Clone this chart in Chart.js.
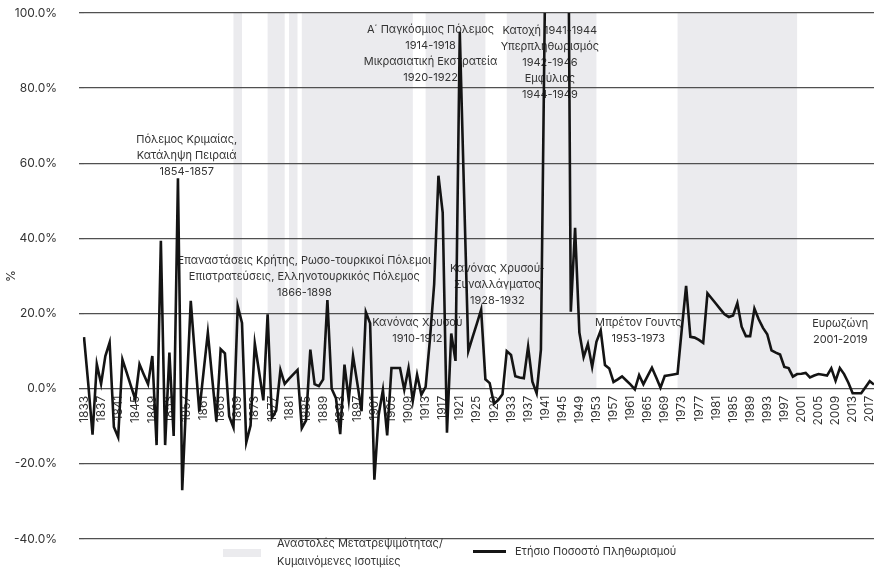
<!DOCTYPE html>
<html lang="el">
<head>
<meta charset="utf-8">
<title>Ετήσιο Ποσοστό Πληθωρισμού</title>
<script src="https://cdn.jsdelivr.net/npm/chart.js@4.4.1/dist/chart.umd.min.js"></script>
<style>
  html, body { margin: 0; padding: 0; background: #fff; }
</style>
</head>
<body>
<canvas id="lineChart" width="874" height="573"></canvas>
<script>
// categories: one per year
var primerAnno = 1833;
var ultimoAnno = 2018;
var annos = [];
for (var a = primerAnno; a <= ultimoAnno; a++) { annos.push(String(a)); }

// annual inflation, % (values above 100 run off the top of the chart)
var inflacion = [
  13.7, 1.3, -12.2, 6.5, 1.3, 8.7, 12.3, -10.2, -12.9, 7.8,      // 1833-1842
  4.3, 0.7, -2.8, 6.5, 3.8, 1.2, 8.7, -15, 39.4, -15,            // 1843-1852
  9.6, -12.6, 56, -27, -1.5, 23.4, 8.5, -6.1, 4.5, 14.9,         // 1853-1862
  3, -8.7, 10.5, 9.4, -7.3, -10.3, 22, 17.5, -14.3, -9.8,        // 1863-1872
  12, 4.5, -3.1, 19.8, -7.8, -5.8, 5, 1.3, 2.6, 3.8,             // 1873-1882
  5, -10.5, -8.4, 10.4, 1.2, 0.7, 2.5, 23.6, 0, -2.5,            // 1883-1892
  -12.1, 6.4, -3, 8.7, 1.5, -6, 20.4, 17.4, -24.2, -7,           // 1893-1902
  -0.3, -12.4, 5.5, 5.5, 5.5, -0.3, 5.5, -3.2, 3.7, -1.6,        // 1903-1912
  0.5, 13, 27.8, 56.7, 46.9, -11.7, 14.7, 7.4, 95, 52,           // 1913-1922
  10, 13.7, 17.3, 21, 2.5, 1.5, -4, -3, -1.5, 10,                // 1923-1932
  9, 3.3, 3, 2.8, 11.2, 1.9, -1.2, 10.4, 110, 1000,              // 1933-1942
  2000, 10000, 1000, 200, 20.5, 42.8, 15, 8.4, 11.9, 5.8,        // 1943-1952
  12.5, 15.5, 6.3, 5.4, 1.8, 2.5, 3.3, 2.2, 1.1, -0.2,           // 1953-1962
  3.6, 1.2, 3.4, 5.6, 3, 0.3, 3.4, 3.6, 3.8, 4,                  // 1963-1972
  16, 27.4, 13.8, 13.6, 13, 12.2, 25.4, 24, 22.6, 21.2,          // 1973-1982
  19.8, 19.1, 19.5, 22.8, 16.5, 14, 14, 21.3, 18.5, 16.2,        // 1983-1992
  14.5, 10.2, 9.6, 9.1, 5.8, 5.5, 3.2, 3.9, 4, 4.2,              // 1993-2002
  3, 3.5, 3.9, 3.7, 3.5, 5.4, 2.1, 5.5, 3.9, 1.6,                // 2003-2012
  -1.2, -1.2, -1.2, 0.4, 2, 1.1                                  // 2013-2018
];

// suspensions of convertibility / floating rates: [start, end)
var anastolesApo = [1868, 1876, 1881, 1884, 1913, 1932, 1972];
var anastolesEos = [1870, 1880, 1883, 1910, 1927, 1953, 2000];

// y ticks
var yMin = -40;
var yMax = 100;
var yPaso = 20;

// notes: text lines, year and value at the first line
var notasTexto = [
  ['Πόλεμος Κριμαίας,', 'Κατάληψη Πειραιά', '1854-1857'],
  ['Επαναστάσεις Κρήτης, Ρωσο-τουρκικοί Πόλεμοι', 'Επιστρατεύσεις, Ελληνοτουρκικός Πόλεμος', '1866-1898'],
  ['Κανόνας Χρυσού', '1910-1912'],
  ['Α΄ Παγκόσμιος Πόλεμος', '1914-1918', 'Μικρασιατική Εκστρατεία', '1920-1922'],
  ['Κατοχή 1941-1944', 'Υπερπληθωρισμός', '1942-1946', 'Εμφύλιος', '1944-1949'],
  ['Κανόνας Χρυσού-', 'Συναλλάγματος', '1928-1932'],
  ['Μπρέτον Γουντς', '1953-1973'],
  ['Ευρωζώνη', '2001-2019']
];
var notasAnno  = [1857.05, 1884.6, 1911.05, 1914.15, 1942.1, 1929.8, 1962.8, 2010.1];
var notasValor = [66.4, 34.1, 17.6, 95.5, 95.3, 32.0, 17.6, 17.4];

var fuente = 'Inter, "Noto Sans", sans-serif';

// shade series built from the periods
var sombra = [];
for (var i = 0; i < annos.length; i++) {
  var y = primerAnno + i, dentro = false;
  for (var k = 0; k < anastolesApo.length; k++) {
    if (y >= anastolesApo[k] && y < anastolesEos[k]) { dentro = true; }
  }
  sombra.push(dentro ? yMax : 0);
}

var notasPlugin = {
  id: 'notas',
  beforeDatasetsDraw: function (chart) {
    var ctx = chart.ctx, xs = chart.scales.x, ys = chart.scales.y;
    ctx.save();
    ctx.font = '11px ' + fuente;
    ctx.fillStyle = '#333';
    ctx.textAlign = 'center';
    ctx.textBaseline = 'middle';
    for (var n = 0; n < notasTexto.length; n++) {
      var px = xs.getPixelForValue(notasAnno[n] - primerAnno);
      var py = ys.getPixelForValue(notasValor[n]);
      for (var j = 0; j < notasTexto[n].length; j++) {
        ctx.fillText(notasTexto[n][j], px, py + j * 16);
      }
    }
    ctx.restore();
  },
  afterDraw: function (chart) {
    // legend
    var ctx = chart.ctx;
    ctx.save();
    ctx.fillStyle = '#ebebee';
    ctx.fillRect(223, 549, 38, 8);
    ctx.strokeStyle = '#151515';
    ctx.lineWidth = 3;
    ctx.beginPath();
    ctx.moveTo(473, 551.5);
    ctx.lineTo(506, 551.5);
    ctx.stroke();
    ctx.font = '11px ' + fuente;
    ctx.fillStyle = '#333';
    ctx.textAlign = 'left';
    ctx.textBaseline = 'middle';
    ctx.fillText('Αναστολές Μετατρεψιμότητας/', 277, 543.5);
    ctx.fillText('Κυμαινόμενες Ισοτιμίες', 277, 561.5);
    ctx.fillText('Ετήσιο Ποσοστό Πληθωρισμού', 515, 551.5);
    ctx.restore();
  }
};

var ctx1 = document.getElementById('lineChart').getContext('2d');
var myLineChart = new Chart(ctx1, {
  type: 'line',
  data: {
    labels: annos,
    datasets: [
      {
        label: 'Ετήσιο Ποσοστό Πληθωρισμού',
        data: inflacion,
        borderColor: '#141414',
        borderWidth: 2.6,
        pointRadius: 0,
        tension: 0,
        fill: false
      },
      {
        label: 'Αναστολές Μετατρεψιμότητας/Κυμαινόμενες Ισοτιμίες',
        data: sombra,
        stepped: true,
        fill: 'origin',
        backgroundColor: '#ebebee',
        borderColor: 'rgba(0,0,0,0)',
        borderWidth: 0,
        pointRadius: 0
      }
    ]
  },
  options: {
    responsive: false,
    animation: false,
    layout: { padding: { top: 13, bottom: 34, left: 0, right: 0 } },
    plugins: {
      legend: { display: false },
      tooltip: { enabled: false },
      filler: { drawTime: 'beforeDraw' }
    },
    scales: {
      x: {
        type: 'category',
        position: { y: 0 },
        grid: { display: false, drawTicks: false },
        border: { display: false },
        afterFit: function (s) { s.paddingLeft = 0; s.paddingRight = 0; },
        ticks: {
          autoSkip: false,
          minRotation: 90,
          maxRotation: 90,
          padding: 7,
          color: '#333',
          font: { family: fuente, size: 12 },
          callback: function (v, i) { return i % 4 === 0 ? this.getLabelForValue(v) : null; }
        }
      },
      y: {
        min: yMin,
        max: yMax,
        afterFit: function (s) { s.width = 84; s.paddingTop = 0; s.paddingBottom = 0; },
        border: { display: false },
        grid: { color: '#505050', lineWidth: 1.3, tickLength: 5 },
        ticks: {
          stepSize: yPaso,
          padding: 22,
          color: '#333',
          font: { family: fuente, size: 12 },
          callback: function (v) { return v.toFixed(1) + '%'; }
        },
        title: {
          display: true,
          text: '%',
          color: '#333',
          font: { family: fuente, size: 12 },
          padding: { top: 4, bottom: 0 }
        }
      }
    }
  },
  plugins: [notasPlugin]
});
</script>
</body>
</html>
